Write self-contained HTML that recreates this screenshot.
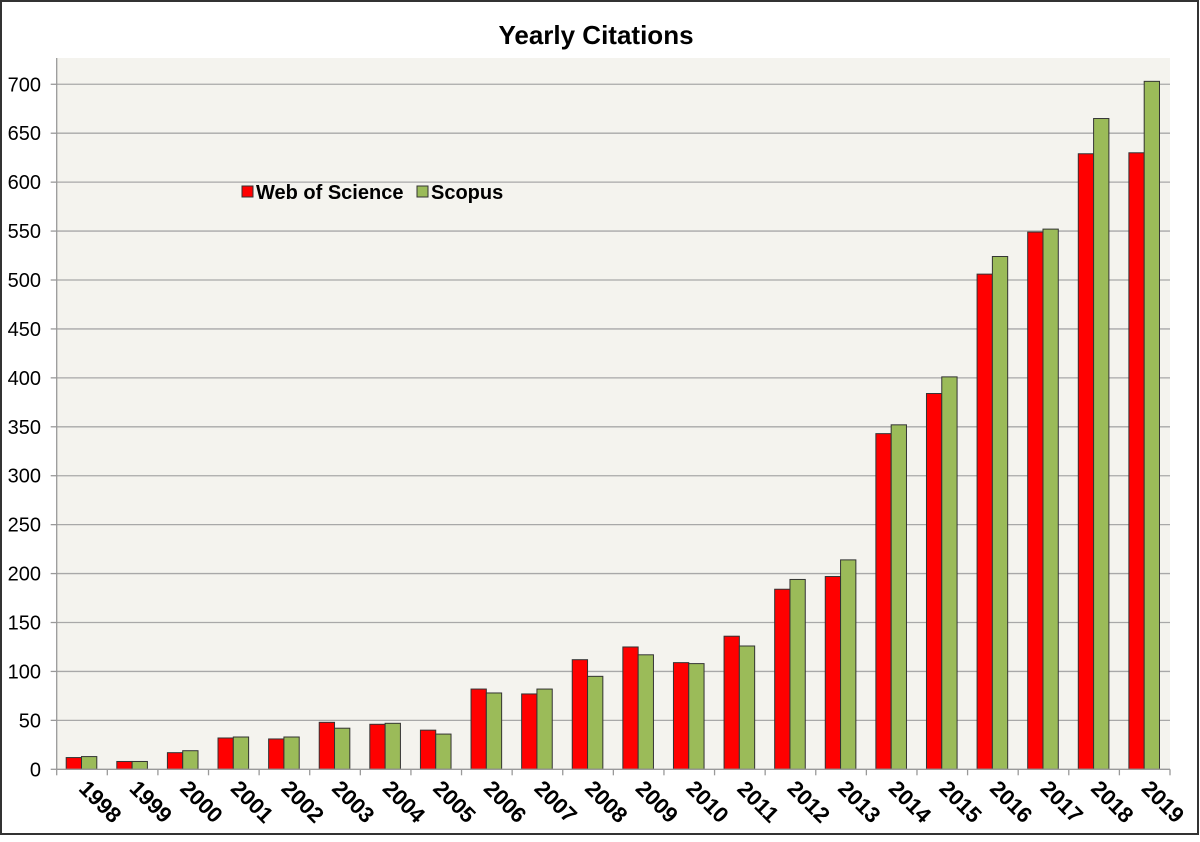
<!DOCTYPE html>
<html><head><style>
html,body{margin:0;padding:0;background:#fff;}
</style></head><body>
<svg width="1200" height="837" xmlns="http://www.w3.org/2000/svg" font-family="Liberation Sans, Arial, sans-serif">
<rect x="0" y="0" width="1200" height="837" fill="#fff"/>
<rect x="1" y="1" width="1197" height="833" fill="none" stroke="#333" stroke-width="2"/>
<rect x="56.7" y="58" width="1113.3" height="711.3" fill="#f4f3ee"/>
<text x="596" y="44" text-anchor="middle" font-size="26" font-weight="bold" fill="#000">Yearly Citations</text>
<g id="grid" stroke="#a8a8a8" stroke-width="1.3"></g>
<g id="bars" stroke="#333" stroke-width="1"></g>
<g id="lab"></g>
<line x1="56.7" y1="58" x2="56.7" y2="769.3" stroke="#999" stroke-width="1.3"/>
<line x1="56.7" y1="769.3" x2="1170" y2="769.3" stroke="#999" stroke-width="1.3"/>
<g id="ticks" stroke="#999" stroke-width="1.3"></g>
<rect x="242" y="186" width="11" height="11" fill="#f00" stroke="#333" stroke-width="1"/>
<text x="256" y="199" font-size="20" font-weight="bold">Web of Science</text>
<rect x="417" y="186" width="11" height="11" fill="#9bbb59" stroke="#333" stroke-width="1"/>
<text x="431" y="199" font-size="20" font-weight="bold">Scopus</text>
</svg>
<script>
const ns="http://www.w3.org/2000/svg";
const w=[12,8,17,32,31,48,46,40,82,77,112,125,109,136,184,197,343,384,506,549,629,630];
const s=[13,8,19,33,33,42,47,36,78,82,95,117,108,126,194,214,352,401,524,552,665,703];
const y0=769.3,k=48.93/50,x0=56.7,cw=(1170-56.7)/22;
function el(p,t,a,txt){const e=document.createElementNS(ns,t);for(const q in a)e.setAttribute(q,a[q]);if(txt!==undefined)e.textContent=txt;document.getElementById(p).appendChild(e);}
for(let v=0;v<=700;v+=50){const y=y0-v*k;if(v>0)el('grid','line',{x1:x0,x2:1170,y1:y,y2:y});
el('lab','text',{x:41,y:y+7,'text-anchor':'end','font-size':20},String(v));
el('ticks','line',{x1:x0-6,x2:x0,y1:y,y2:y});}
for(let i=0;i<22;i++){const cx=x0+i*cw;
el('bars','rect',{x:cx+9.5,y:y0-w[i]*k,width:15.3,height:w[i]*k,fill:'#ff0000'});
el('bars','rect',{x:cx+24.8,y:y0-s[i]*k,width:15.3,height:s[i]*k,fill:'#9bbb59'});
el('ticks','line',{x1:cx,x2:cx,y1:y0,y2:y0+6});
const lx=cx+cw/2+13;
el('lab','text',{x:0,y:0,'text-anchor':'middle','font-size':22,'font-weight':'bold',transform:`translate(${lx},807) rotate(45)`},String(1998+i));}
el('ticks','line',{x1:1170,x2:1170,y1:y0,y2:y0+6});
</script>
</body></html>
